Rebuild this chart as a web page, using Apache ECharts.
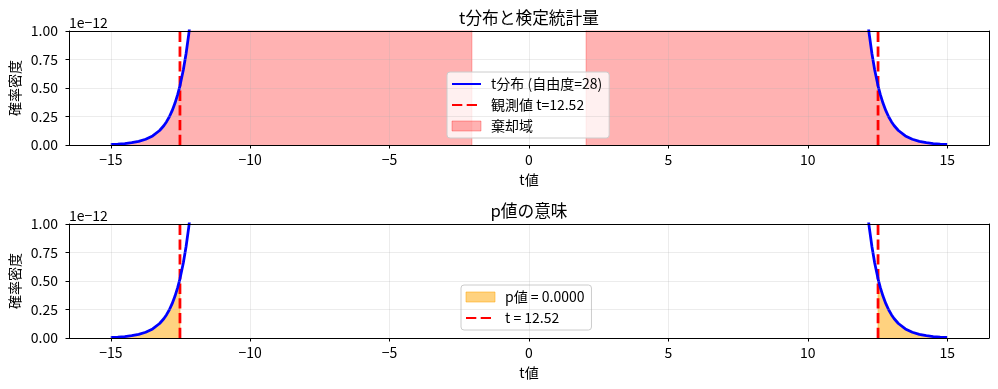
<!DOCTYPE html>
<html>
<head>
<meta charset="utf-8">
<script src="https://cdn.jsdelivr.net/npm/echarts@6/dist/echarts.min.js"></script>
<style>
html,body{margin:0;padding:0;background:#fff;}
#chart{width:998px;height:389px;}
</style>
</head>
<body>
<div id="chart"></div>
<script>
// ---- data (density values in units of 1e-12) ----
const tValues = [-15, -14.75, -14.5, -14.25, -14, -13.75, -13.5, -13.25, -13.1, -13, -12.9, -12.8, -12.7, -12.6, -12.52, -12.4, -12.3, -12.2, -12.1, -12, -11.8, -11.5, -11, -10, -8, -5, -2.048, 0, 2.048, 5, 8, 10, 11, 11.5, 11.8, 12, 12.1, 12.2, 12.3, 12.4, 12.52, 12.6, 12.7, 12.8, 12.9, 13, 13.1, 13.25, 13.5, 13.75, 14, 14.25, 14.5, 14.75, 15];
const pdfValues = [0.00544, 0.00838, 0.0130, 0.0203, 0.0318, 0.0502, 0.0796, 0.1273, 0.1691, 0.2047, 0.2480, 0.3008, 0.3652, 0.4438, 0.5191, 0.6578, 0.8022, 0.9793, 1.1969, 1.4645, 2.20, 4.086, 11.74, 106.2, 12760, 3.79e7, 5.22e10, 3.954e11, 5.22e10, 3.79e7, 12760, 106.2, 11.74, 4.086, 2.20, 1.4645, 1.1969, 0.9793, 0.8022, 0.6578, 0.5191, 0.4438, 0.3652, 0.3008, 0.2480, 0.2047, 0.1691, 0.1273, 0.0796, 0.0502, 0.0318, 0.0203, 0.0130, 0.00838, 0.00544];
const tCritical = 2.048;
const tObserved = 12.52;
const xTicks = [-15, -10, -5, 0, 5, 10, 15];
const yTicks = [0, 0.25, 0.5, 0.75, 1.0];
const titles = ['t分布と検定統計量', 'p値の意味'];
const legendTop = ['t分布 (自由度=28)', '観測値 t=12.52', '棄却域'];
const legendBottom = ['p値 = 0.0000', 't = 12.52'];

const FONT = '"Noto Sans CJK JP", "Noto Sans", sans-serif';
const curve = tValues.map((t, i) => [t, pdfValues[i]]);
const leftTail = (lim) => curve.filter(p => p[0] <= -lim).concat([[-lim, 0]]);
const rightTail = (lim) => [[lim, 0]].concat(curve.filter(p => p[0] >= lim));

const gridTops = [31, 224];
const GL = 69, GW = 920, GH = 114;
const dash = [10.3, 4.4];

function xAxisFor(g) {
  return {
    type: 'value', gridIndex: g, min: -16.5, max: 16.5, z: 10,
    axisLine: {show: true, onZero: false, lineStyle: {color: '#000', width: 1}},
    axisTick: {show: true, customValues: xTicks, length: 3.5, lineStyle: {color: '#000', width: 1}},
    axisLabel: {customValues: xTicks, margin: 8, fontSize: 14, fontFamily: FONT, color: '#000',
      formatter: v => String(v).replace('-', '\u2212')},
    splitLine: {show: true, lineStyle: {color: 'rgba(176,176,176,0.3)', width: 0.8}}
  };
}
function xAxisTop(g) {
  return {type: 'value', gridIndex: g, position: 'top', min: -16.5, max: 16.5, z: 10,
    axisLine: {show: true, onZero: false, lineStyle: {color: '#000', width: 1}},
    axisTick: {show: false}, axisLabel: {show: false}, splitLine: {show: false}};
}
function yAxisFor(g) {
  return {
    type: 'value', gridIndex: g, min: 0, max: 1, interval: 0.25, z: 10,
    axisLine: {show: true, onZero: false, lineStyle: {color: '#000', width: 1}},
    axisTick: {show: true, length: 3.5, lineStyle: {color: '#000', width: 1}},
    axisLabel: {margin: 11, fontSize: 14, fontFamily: FONT, color: '#000', formatter: v => v.toFixed(2)},
    splitLine: {show: true, lineStyle: {color: 'rgba(176,176,176,0.3)', width: 0.8}}
  };
}
function yAxisRight(g) {
  return {type: 'value', gridIndex: g, position: 'right', min: 0, max: 1, z: 10,
    axisLine: {show: true, onZero: false, lineStyle: {color: '#000', width: 1}},
    axisTick: {show: false}, axisLabel: {show: false}, splitLine: {show: false}};
}

const redFill = 'rgba(255,0,0,0.3)';
const orangeFill = 'rgba(255,165,0,0.5)';
function fillSeries(name, data, color, xi, yi) {
  return {name, type: 'line', xAxisIndex: xi, yAxisIndex: yi, data, symbol: 'none', z: 1,
    lineStyle: {color, width: 1}, itemStyle: {color}, areaStyle: {color, opacity: 1, origin: 'start'},
    clip: true, animation: false};
}
function curveSeries(name, xi, yi) {
  return {name, type: 'line', xAxisIndex: xi, yAxisIndex: yi, data: curve, symbol: 'none', z: 3,
    lineStyle: {color: '#0000ff', width: 2.78}, itemStyle: {color: '#0000ff'}, clip: true, animation: false};
}
function vline(name, x, xi, yi) {
  return {name, type: 'line', xAxisIndex: xi, yAxisIndex: yi, data: [[x, 0], [x, 1]], symbol: 'none', z: 2,
    lineStyle: {color: '#ff0000', width: 2.78, type: dash}, itemStyle: {color: '#ff0000'}, clip: true, animation: false};
}

const legendCommon = {
  orient: 'vertical', itemWidth: 29, itemHeight: 10, itemGap: 7,
  backgroundColor: 'rgba(255,255,255,0.8)', borderColor: '#cccccc', borderWidth: 1, borderRadius: 3,
  padding: [5, 7, 5, 4],
  textStyle: {fontSize: 14, fontFamily: FONT, color: '#000', lineHeight: 14, padding: [0, 0, 0, 5]},
  selectedMode: false
};
const noSymbol = {opacity: 0};

const graphics = [];
gridTops.forEach((top, i) => {
  graphics.push({type: 'text', x: GL + GW / 2, y: top - 13.5, style: {text: titles[i], font: '16.7px ' + FONT, fill: '#000', align: 'center', verticalAlign: 'middle'}});
  graphics.push({type: 'text', x: GL, y: top - 8, style: {text: '1e\u221212', font: '14px ' + FONT, fill: '#000', align: 'left', verticalAlign: 'middle'}});
  graphics.push({type: 'text', x: 15, y: top + GH / 2, rotation: Math.PI / 2, style: {text: '確率密度', font: '14px ' + FONT, fill: '#000', align: 'center', verticalAlign: 'middle'}});
  graphics.push({type: 'text', x: GL + GW / 2, y: top + GH + 35, style: {text: 't値', font: '14px ' + FONT, fill: '#000', align: 'center', verticalAlign: 'middle'}});
});

const option = {
  backgroundColor: '#fff',
  animation: false,
  grid: gridTops.map(t => ({left: GL, top: t, width: GW, height: GH, containLabel: false})),
  xAxis: [xAxisFor(0), xAxisFor(1), xAxisTop(0), xAxisTop(1)],
  yAxis: [yAxisFor(0), yAxisFor(1), yAxisRight(0), yAxisRight(1)],
  legend: [
    Object.assign({}, legendCommon, {left: 447, top: 72, data: [
      {name: legendTop[0], itemStyle: noSymbol},
      {name: legendTop[1], itemStyle: noSymbol},
      {name: legendTop[2], icon: 'rect', itemStyle: {color: redFill, borderColor: redFill, borderWidth: 1}}
    ]}),
    Object.assign({}, legendCommon, {left: 461, top: 285, data: [
      {name: legendBottom[0], icon: 'rect', itemStyle: {color: orangeFill, borderColor: orangeFill, borderWidth: 1}},
      {name: legendBottom[1], itemStyle: noSymbol}
    ]})
  ],
  graphic: graphics,
  series: [
    fillSeries(legendTop[2], leftTail(tCritical), redFill, 0, 0),
    fillSeries(legendTop[2], rightTail(tCritical), redFill, 0, 0),
    curveSeries(legendTop[0], 0, 0),
    vline(legendTop[1], -tObserved, 0, 0),
    vline(legendTop[1], tObserved, 0, 0),
    fillSeries(legendBottom[0], leftTail(tObserved), orangeFill, 1, 1),
    fillSeries(legendBottom[0], rightTail(tObserved), orangeFill, 1, 1),
    curveSeries('t分布', 1, 1),
    vline(legendBottom[1], -tObserved, 1, 1),
    vline(legendBottom[1], tObserved, 1, 1)
  ]
};
const chart = echarts.init(document.getElementById('chart'), null, {renderer: 'canvas'});
chart.setOption(option);
</script>
</body>
</html>
